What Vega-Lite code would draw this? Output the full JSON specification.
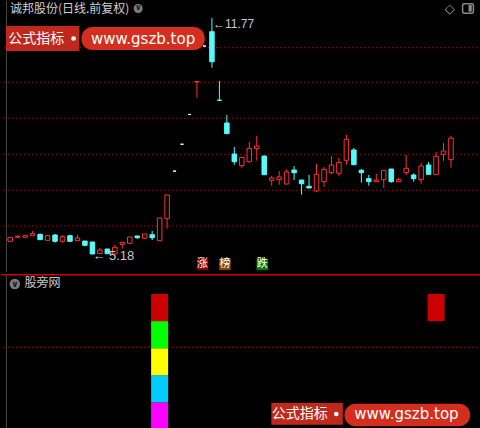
{
"$schema": "https://vega.github.io/schema/vega-lite/v6.json",
"background": "#000000",
"padding": 0,
"spacing": 0,
"config": {"view": {"stroke": null}, "axis": {"disable": true}, "legend": {"disable": true}},
"resolve": {"scale": {"x": "independent", "y": "independent", "color": "independent"}},
"datasets": {
"candles": [
{"i":0,"o":5.543,"h":5.655,"l":5.543,"c":5.655},
{"i":1,"o":5.655,"h":5.719,"l":5.655,"c":5.682},
{"i":2,"o":5.655,"h":5.727,"l":5.655,"c":5.699},
{"i":3,"o":5.699,"h":5.83,"l":5.699,"c":5.755},
{"i":4,"o":5.738,"h":5.755,"l":5.588,"c":5.588},
{"i":5,"o":5.571,"h":5.727,"l":5.571,"c":5.699},
{"i":6,"o":5.719,"h":5.747,"l":5.504,"c":5.543},
{"i":7,"o":5.543,"h":5.71,"l":5.504,"c":5.671},
{"i":8,"o":5.699,"h":5.727,"l":5.543,"c":5.543},
{"i":9,"o":5.56,"h":5.719,"l":5.56,"c":5.635},
{"i":10,"o":5.551,"h":5.551,"l":5.404,"c":5.431},
{"i":11,"o":5.524,"h":5.524,"l":5.18,"c":5.19},
{"i":12,"o":5.2,"h":5.356,"l":5.19,"c":5.3},
{"i":13,"o":5.328,"h":5.328,"l":5.197,"c":5.197},
{"i":14,"o":5.19,"h":5.44,"l":5.19,"c":5.376},
{"i":15,"o":5.459,"h":5.515,"l":5.337,"c":5.515},
{"i":16,"o":5.487,"h":5.663,"l":5.487,"c":5.663},
{"i":17,"o":5.691,"h":5.691,"l":5.607,"c":5.643},
{"i":18,"o":5.627,"h":5.747,"l":5.627,"c":5.747},
{"i":19,"o":5.727,"h":5.83,"l":5.579,"c":5.643},
{"i":20,"o":5.56,"h":6.193,"l":5.56,"c":6.193},
{"i":21,"o":6.184,"h":6.834,"l":5.894,"c":6.834},
{"i":22,"o":7.5,"h":7.5,"l":7.5,"c":7.5},
{"i":23,"o":8.25,"h":8.25,"l":8.25,"c":8.25},
{"i":24,"o":9.08,"h":9.08,"l":9.08,"c":9.08},
{"i":25,"o":9.99,"h":9.995,"l":9.547,"c":9.995},
{"i":26,"o":10.99,"h":10.99,"l":10.99,"c":10.99},
{"i":27,"o":11.388,"h":11.77,"l":10.384,"c":10.551},
{"i":28,"o":9.478,"h":10.013,"l":9.475,"c":9.475},
{"i":29,"o":8.842,"h":9.065,"l":8.544,"c":8.544},
{"i":30,"o":7.977,"h":8.173,"l":7.679,"c":7.763},
{"i":31,"o":7.651,"h":7.885,"l":7.595,"c":7.885},
{"i":32,"o":7.763,"h":8.312,"l":7.735,"c":8.136},
{"i":33,"o":8.125,"h":8.479,"l":7.791,"c":8.2},
{"i":34,"o":7.922,"h":7.922,"l":7.4,"c":7.4},
{"i":35,"o":7.244,"h":7.364,"l":7.094,"c":7.308},
{"i":36,"o":7.261,"h":7.503,"l":7.121,"c":7.336},
{"i":37,"o":7.141,"h":7.551,"l":7.121,"c":7.476},
{"i":38,"o":7.531,"h":7.643,"l":7.252,"c":7.456},
{"i":39,"o":7.252,"h":7.252,"l":6.843,"c":7.149},
{"i":40,"o":7.077,"h":7.392,"l":7.029,"c":7.029},
{"i":41,"o":6.946,"h":7.707,"l":6.92,"c":7.411},
{"i":42,"o":7.205,"h":7.615,"l":7.057,"c":7.551},
{"i":43,"o":7.456,"h":7.922,"l":7.411,"c":7.671},
{"i":44,"o":7.439,"h":7.874,"l":7.356,"c":7.746},
{"i":45,"o":7.802,"h":8.507,"l":7.679,"c":8.387},
{"i":46,"o":8.089,"h":8.145,"l":7.679,"c":7.679},
{"i":47,"o":7.523,"h":7.559,"l":7.177,"c":7.456},
{"i":48,"o":7.289,"h":7.392,"l":7.094,"c":7.205},
{"i":49,"o":7.205,"h":7.428,"l":7.205,"c":7.252},
{"i":50,"o":7.261,"h":7.523,"l":7.029,"c":7.523},
{"i":51,"o":7.559,"h":7.559,"l":7.177,"c":7.205},
{"i":52,"o":7.205,"h":7.317,"l":7.205,"c":7.261},
{"i":53,"o":7.456,"h":7.95,"l":7.392,"c":7.579},
{"i":54,"o":7.392,"h":7.439,"l":7.205,"c":7.289},
{"i":55,"o":7.261,"h":7.727,"l":7.149,"c":7.643},
{"i":56,"o":7.671,"h":7.754,"l":7.411,"c":7.411},
{"i":57,"o":7.4,"h":8.033,"l":7.4,"c":7.913},
{"i":58,"o":7.969,"h":8.284,"l":7.782,"c":8.061},
{"i":59,"o":7.819,"h":8.479,"l":7.595,"c":8.424}
],
"levels": [
{"i":20,"v0":0,"v1":1,"level":"L1"},
{"i":20,"v0":1,"v1":2,"level":"L2"},
{"i":20,"v0":2,"v1":3,"level":"L3"},
{"i":20,"v0":3,"v1":4,"level":"L4"},
{"i":20,"v0":4,"v1":5,"level":"L5"},
{"i":57,"v0":4,"v1":5,"level":"L5"}
]
},
"vconcat": [
{
"width": 480, "height": 271,
"layer": [
{"data": {"values": [{"g":10.942},{"g":9.977},{"g":8.973},{"g":7.969},{"g":6.965},{"g":5.97}]},
 "mark": {"type": "rule", "color": "#c00000", "strokeDash": [1,3], "strokeWidth": 1},
 "encoding": {"y": {"field": "g", "type": "quantitative", "scale": {"domain": [4.687, 12.244], "nice": false, "zero": false}}}},
{"data": {"values": [{}]}, "mark": {"type": "rule", "color": "#444444", "strokeWidth": 1},
 "encoding": {"x": {"datum": -0.5, "type": "quantitative", "scale": {"domain": [-0.5636, 62.347], "nice": false, "zero": false}}}},
{"data": {"name": "candles"}, "transform": [{"filter": "datum.c > datum.o"}],
 "mark": {"type": "rule", "color": "#ff3232", "strokeWidth": 1},
 "encoding": {"x": {"field": "i", "type": "quantitative", "scale": {"domain": [-0.5636, 62.347], "nice": false, "zero": false}},
  "y": {"field": "l", "type": "quantitative", "scale": {"domain": [4.687, 12.244], "nice": false, "zero": false}}, "y2": {"field": "h"}}},
{"data": {"name": "candles"}, "transform": [{"filter": "datum.c < datum.o"}],
 "mark": {"type": "rule", "color": "#54fcfc", "strokeWidth": 1},
 "encoding": {"x": {"field": "i", "type": "quantitative"}, "y": {"field": "l", "type": "quantitative"}, "y2": {"field": "h"}}},
{"data": {"name": "candles"}, "transform": [{"filter": "datum.c > datum.o"}],
 "mark": {"type": "bar", "size": 4.5, "fill": "#000000", "stroke": "#ff3232", "strokeWidth": 1},
 "encoding": {"x": {"field": "i", "type": "quantitative"}, "y": {"field": "o", "type": "quantitative"}, "y2": {"field": "c"}}},
{"data": {"name": "candles"}, "transform": [{"filter": "datum.c < datum.o"}],
 "mark": {"type": "bar", "size": 4.5, "fill": "#54fcfc", "stroke": "#54fcfc", "strokeWidth": 1},
 "encoding": {"x": {"field": "i", "type": "quantitative"}, "y": {"field": "o", "type": "quantitative"}, "y2": {"field": "c"}}},
{"data": {"name": "candles"}, "transform": [{"filter": "datum.c == datum.o"}],
 "mark": {"type": "bar", "size": 3, "fill": "#ffffff", "stroke": "#ffffff", "strokeWidth": 1},
 "encoding": {"x": {"field": "i", "type": "quantitative"}, "y": {"field": "o", "type": "quantitative"}, "y2": {"field": "c"}}},
{"data": {"name": "candles"}, "transform": [{"filter": "datum.i == 27"}, {"calculate": "'←' + format(datum.h, '.2f')", "as": "lab"}],
 "mark": {"type": "text", "align": "left", "baseline": "middle", "dx": 1, "dy": 6, "fontSize": 12, "font": "Liberation Sans, DejaVu Sans", "color": "#c8c8c8"},
 "encoding": {"x": {"field": "i", "type": "quantitative"}, "y": {"field": "h", "type": "quantitative"}, "text": {"field": "lab"}}},
{"data": {"name": "candles"}, "transform": [{"filter": "datum.i == 11"}, {"calculate": "'← ' + format(datum.l, '.2f')", "as": "lab"}],
 "mark": {"type": "text", "align": "left", "baseline": "middle", "dx": 0, "dy": 2, "fontSize": 13, "font": "Liberation Sans, DejaVu Sans", "color": "#c8c8c8"},
 "encoding": {"x": {"field": "i", "type": "quantitative"}, "y": {"field": "l", "type": "quantitative"}, "text": {"field": "lab"}}},
{"data": {"values": [{"i":25,"s":"涨"},{"i":28,"s":"榜"},{"i":33,"s":"跌"}]},
 "mark": {"type": "square", "size": 130, "filled": true, "opacity": 1, "xOffset": 5.5},
 "encoding": {"x": {"field": "i", "type": "quantitative"}, "y": {"datum": 4.901, "type": "quantitative"},
  "color": {"field": "s", "type": "nominal", "scale": {"domain": ["涨","榜","跌"], "range": ["#8c0000","#8c4600","#008000"]}}}},
{"data": {"values": [{"i":25,"s":"涨"},{"i":28,"s":"榜"},{"i":33,"s":"跌"}]},
 "mark": {"type": "text", "xOffset": 5.5, "baseline": "middle", "align": "center", "fontSize": 11, "font": "Noto Sans CJK SC", "color": "#ffffff"},
 "encoding": {"x": {"field": "i", "type": "quantitative"}, "y": {"datum": 4.901, "type": "quantitative"}, "text": {"field": "s"}}},
{"data": {"values": [{}]}, "mark": {"type": "rect", "color": "#c0281c"},
 "encoding": {"x": {"datum": -0.5636, "type": "quantitative"}, "x2": {"datum": 9.266}, "y": {"datum": 11.547, "type": "quantitative"}, "y2": {"datum": 10.85}}},
{"data": {"values": [{}]}, "mark": {"type": "rect", "color": "#d42e1e", "cornerRadius": 11},
 "encoding": {"x": {"datum": 9.528, "type": "quantitative"}, "x2": {"datum": 26.04}, "y": {"datum": 11.519, "type": "quantitative"}, "y2": {"datum": 10.878}}},
{"data": {"values": [{}]}, "mark": {"type": "point", "filled": true, "opacity": 1, "size": 22, "color": "#ffffff"},
 "encoding": {"x": {"datum": 8.48, "type": "quantitative"}, "y": {"datum": 11.198, "type": "quantitative"}}},
{"data": {"values": [{"t": "公式指标"}]}, "mark": {"type": "text", "align": "center", "baseline": "middle", "fontSize": 14, "font": "Noto Sans CJK SC", "color": "#ffffff"},
 "encoding": {"x": {"datum": 3.5, "type": "quantitative"}, "y": {"datum": 11.198, "type": "quantitative"}, "text": {"field": "t"}}},
{"data": {"values": [{"t": "www.gszb.top"}]}, "mark": {"type": "text", "align": "center", "baseline": "middle", "fontSize": 15, "font": "DejaVu Sans", "color": "#ffffff"},
 "encoding": {"x": {"datum": 17.78, "type": "quantitative"}, "y": {"datum": 11.198, "type": "quantitative"}, "text": {"field": "t"}}},
{"data": {"values": [{"t": "诚邦股份(日线.前复权)"}]}, "mark": {"type": "text", "align": "left", "baseline": "middle", "fontSize": 12, "font": "Noto Sans CJK SC", "color": "#d0d0d0"},
 "encoding": {"x": {"datum": -0.04, "type": "quantitative"}, "y": {"datum": 12.01, "type": "quantitative"}, "text": {"field": "t"}}},
{"data": {"values": [{}]}, "mark": {"type": "point", "filled": true, "opacity": 1, "size": 80, "color": "#7c7c7c"},
 "encoding": {"x": {"datum": 17.13, "type": "quantitative"}, "y": {"datum": 12.035, "type": "quantitative"}}},
{"data": {"values": [{"t": "∨"}]}, "mark": {"type": "text", "align": "center", "baseline": "middle", "fontSize": 8, "fontWeight": "bold", "font": "DejaVu Sans", "color": "#1a1a1a"},
 "encoding": {"x": {"datum": 17.13, "type": "quantitative"}, "y": {"datum": 12.035, "type": "quantitative"}, "text": {"field": "t"}}},
{"data": {"values": [{"t": "◇"}]}, "mark": {"type": "text", "align": "center", "baseline": "middle", "fontSize": 13, "font": "DejaVu Sans", "color": "#a0a0a0"},
 "encoding": {"x": {"datum": 58.85, "type": "quantitative"}, "y": {"datum": 12.01, "type": "quantitative"}, "text": {"field": "t"}}},
{"data": {"values": [{}]}, "mark": {"type": "rect", "fill": "transparent", "stroke": "#8a8a8a", "strokeWidth": 1.5, "cornerRadius": 2},
 "encoding": {"x": {"datum": 60.55, "type": "quantitative"}, "x2": {"datum": 62.0}, "y": {"datum": 12.17, "type": "quantitative"}, "y2": {"datum": 11.9}}},
{"data": {"values": [{}]}, "mark": {"type": "rect", "color": "#8a8a8a"},
 "encoding": {"x": {"datum": 61.34, "type": "quantitative"}, "x2": {"datum": 61.78}, "y": {"datum": 12.132, "type": "quantitative"}, "y2": {"datum": 11.946}}}
]
},
{
"width": 480, "height": 157,
"layer": [
{"data": {"values": [{}]}, "mark": {"type": "rule", "color": "#d00000", "strokeWidth": 1.5},
 "encoding": {"y": {"datum": 5.71, "type": "quantitative", "scale": {"domain": [-0.055, 5.738], "nice": false, "zero": false}}}},
{"data": {"values": [{}]}, "mark": {"type": "rule", "color": "#c00000", "strokeDash": [1,3], "strokeWidth": 1},
 "encoding": {"y": {"datum": 3.033, "type": "quantitative"}}},
{"data": {"values": [{}]}, "mark": {"type": "rule", "color": "#444444", "strokeWidth": 1},
 "encoding": {"x": {"datum": -0.5, "type": "quantitative", "scale": {"domain": [-0.5636, 62.347], "nice": false, "zero": false}}}},
{"data": {"name": "levels"},
 "mark": {"type": "bar", "size": 17},
 "encoding": {"x": {"field": "i", "type": "quantitative"}, "y": {"field": "v0", "type": "quantitative"}, "y2": {"field": "v1"},
  "color": {"field": "level", "type": "nominal", "scale": {"domain": ["L1","L2","L3","L4","L5"], "range": ["#ff00ff","#00ccff","#ffff00","#00ff00","#cc0000"]}}}},
{"data": {"values": [{}]}, "mark": {"type": "point", "filled": true, "opacity": 1, "size": 110, "color": "#7c7c7c"},
 "encoding": {"x": {"datum": 0.616, "type": "quantitative"}, "y": {"datum": 5.369, "type": "quantitative"}}},
{"data": {"values": [{"t": "∨"}]}, "mark": {"type": "text", "align": "center", "baseline": "middle", "fontSize": 9, "fontWeight": "bold", "font": "DejaVu Sans", "color": "#1a1a1a"},
 "encoding": {"x": {"datum": 0.616, "type": "quantitative"}, "y": {"datum": 5.369, "type": "quantitative"}, "text": {"field": "t"}}},
{"data": {"values": [{"t": "股旁网"}]}, "mark": {"type": "text", "align": "left", "baseline": "middle", "fontSize": 12, "font": "Noto Sans CJK SC", "color": "#c8c8c8"},
 "encoding": {"x": {"datum": 1.927, "type": "quantitative"}, "y": {"datum": 5.406, "type": "quantitative"}, "text": {"field": "t"}}},
{"data": {"values": [{}]}, "mark": {"type": "rect", "color": "#c0281c"},
 "encoding": {"x": {"datum": 34.95, "type": "quantitative"}, "x2": {"datum": 44.52}, "y": {"datum": 0.978, "type": "quantitative"}, "y2": {"datum": 0.177}}},
{"data": {"values": [{}]}, "mark": {"type": "rect", "color": "#d42e1e", "cornerRadius": 11},
 "encoding": {"x": {"datum": 44.74, "type": "quantitative"}, "x2": {"datum": 61.56}, "y": {"datum": 0.952, "type": "quantitative"}, "y2": {"datum": 0.118}}},
{"data": {"values": [{}]}, "mark": {"type": "point", "filled": true, "opacity": 1, "size": 22, "color": "#ffffff"},
 "encoding": {"x": {"datum": 43.64, "type": "quantitative"}, "y": {"datum": 0.572, "type": "quantitative"}}},
{"data": {"values": [{"t": "公式指标"}]}, "mark": {"type": "text", "align": "center", "baseline": "middle", "fontSize": 14, "font": "Noto Sans CJK SC", "color": "#ffffff"},
 "encoding": {"x": {"datum": 38.75, "type": "quantitative"}, "y": {"datum": 0.572, "type": "quantitative"}, "text": {"field": "t"}}},
{"data": {"values": [{"t": "www.gszb.top"}]}, "mark": {"type": "text", "align": "center", "baseline": "middle", "fontSize": 15, "font": "DejaVu Sans", "color": "#ffffff"},
 "encoding": {"x": {"datum": 53.04, "type": "quantitative"}, "y": {"datum": 0.572, "type": "quantitative"}, "text": {"field": "t"}}}
]
}
]
}
